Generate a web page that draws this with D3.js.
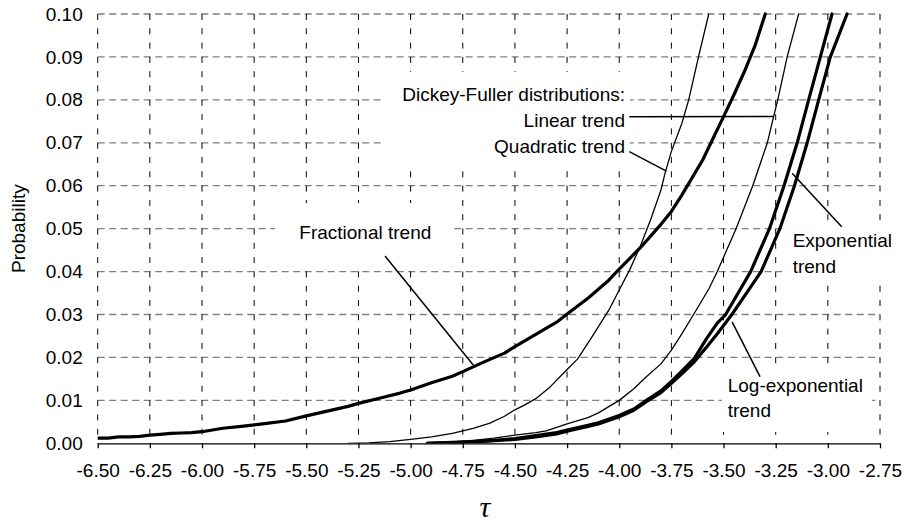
<!DOCTYPE html>
<html>
<head>
<meta charset="utf-8">
<script src="https://cdn.jsdelivr.net/npm/d3@7"></script>
<style>
  html, body { margin: 0; padding: 0; background: #fff; }
  svg { display: block; }
  text { font-family: "Liberation Sans", Arial, sans-serif; fill: #000; }
</style>
</head>
<body>
<svg id="chart" width="904" height="522"></svg>
<script>
// ---------------- data ----------------
const xTicks = [-6.50, -6.25, -6.00, -5.75, -5.50, -5.25, -5.00, -4.75, -4.50, -4.25, -4.00, -3.75, -3.50, -3.25, -3.00, -2.75];
const yTicks = [0.00, 0.01, 0.02, 0.03, 0.04, 0.05, 0.06, 0.07, 0.08, 0.09, 0.10];

// [tau, probability]
const fractionalTrend = [
  [-6.50,0.0012],[-6.45,0.0012],[-6.40,0.0015],[-6.35,0.0015],[-6.30,0.0016],[-6.25,0.0019],
  [-6.20,0.0021],[-6.15,0.0023],[-6.10,0.0024],[-6.05,0.0025],[-6.00,0.0027],[-5.95,0.0031],
  [-5.90,0.0035],[-5.80,0.0040],[-5.75,0.0043],[-5.70,0.0046],[-5.60,0.0052],[-5.50,0.0064],
  [-5.40,0.0075],[-5.30,0.0086],[-5.25,0.0093],[-5.15,0.0105],[-5.05,0.0117],[-5.00,0.0124],
  [-4.90,0.0141],[-4.80,0.0156],[-4.75,0.0167],[-4.65,0.0189],[-4.55,0.0210],[-4.50,0.0225],
  [-4.40,0.0254],[-4.30,0.0282],[-4.25,0.0301],[-4.15,0.0338],[-4.05,0.0380],[-4.00,0.0406],
  [-3.90,0.0455],[-3.80,0.0510],[-3.75,0.0540],[-3.70,0.0578],[-3.60,0.0660],[-3.50,0.0761],
  [-3.45,0.0812],[-3.40,0.0866],[-3.35,0.0925],[-3.30,0.1000]
];
const quadraticTrend = [
  [-5.30,0.0000],[-5.20,0.0001],[-5.10,0.0004],[-5.00,0.0009],[-4.90,0.0015],[-4.80,0.0023],
  [-4.75,0.0029],[-4.70,0.0035],[-4.62,0.0047],[-4.55,0.0063],[-4.50,0.0078],[-4.45,0.0090],
  [-4.40,0.0104],[-4.33,0.0132],[-4.25,0.0172],[-4.20,0.0196],[-4.12,0.0256],[-4.05,0.0310],
  [-4.00,0.0357],[-3.95,0.0404],[-3.90,0.0458],[-3.85,0.0520],[-3.80,0.0590],[-3.78,0.0630],
  [-3.75,0.0680],[-3.70,0.0745],[-3.667,0.0800],[-3.62,0.0900],[-3.571,0.1000]
];
const linearTrend = [
  [-4.90,0.0001],[-4.80,0.0003],[-4.70,0.0007],[-4.60,0.0012],[-4.50,0.0019],[-4.40,0.0025],
  [-4.35,0.0029],[-4.25,0.0045],[-4.15,0.0060],[-4.10,0.0071],[-4.00,0.0100],[-3.93,0.0127],
  [-3.87,0.0155],[-3.80,0.0185],[-3.75,0.0217],[-3.70,0.0255],[-3.64,0.0303],[-3.57,0.0360],
  [-3.53,0.0400],[-3.44,0.0500],[-3.36,0.0600],[-3.29,0.0700],[-3.26,0.0761],[-3.24,0.0800],
  [-3.195,0.0900],[-3.14,0.1000]
];
const exponentialTrend = [
  [-4.92,0.0000],[-4.80,0.0002],[-4.70,0.0004],[-4.60,0.0007],[-4.50,0.0011],[-4.40,0.0018],
  [-4.30,0.0025],[-4.25,0.0031],[-4.15,0.0042],[-4.10,0.0048],[-4.00,0.0065],[-3.93,0.0080],
  [-3.87,0.0100],[-3.80,0.0122],[-3.75,0.0144],[-3.70,0.0168],[-3.64,0.0198],[-3.58,0.0245],
  [-3.53,0.0280],[-3.49,0.0300],[-3.43,0.0350],[-3.37,0.0400],[-3.28,0.0500],[-3.21,0.0600],
  [-3.147,0.0700],[-3.092,0.0800],[-3.036,0.0900],[-2.98,0.1000]
];
const logExponentialTrend = [
  [-4.92,0.0000],[-4.80,0.0001],[-4.70,0.0003],[-4.60,0.0006],[-4.50,0.0009],[-4.40,0.0015],
  [-4.30,0.0022],[-4.25,0.0028],[-4.15,0.0039],[-4.10,0.0045],[-4.00,0.0062],[-3.93,0.0077],
  [-3.87,0.0097],[-3.80,0.0118],[-3.75,0.0140],[-3.70,0.0162],[-3.64,0.0190],[-3.58,0.0225],
  [-3.53,0.0255],[-3.46,0.0300],[-3.39,0.0350],[-3.32,0.0400],[-3.23,0.0500],[-3.16,0.0600],
  [-3.099,0.0700],[-3.044,0.0800],[-2.988,0.0900],[-2.908,0.1000]
];

const seriesNames = ["Fractional trend", "Quadratic trend", "Linear trend", "Exponential trend", "Log-exponential trend"];
const seriesData  = [fractionalTrend, quadraticTrend, linearTrend, exponentialTrend, logExponentialTrend];

const yAxisTitle = "Probability";
const xAxisTitle = "τ";

// ---------------- layout ----------------
const svg = d3.select("#chart");
const plot = { left: 97.7, right: 880, top: 14, bottom: 443.3 };
const x = d3.scaleLinear().domain([-6.5, -2.75]).range([plot.left, plot.right]);
const y = d3.scaleLinear().domain([0, 0.10]).range([plot.bottom, plot.top]);
const thick = { "Fractional trend": 3.2, "Quadratic trend": 1.3, "Linear trend": 1.3, "Exponential trend": 3.2, "Log-exponential trend": 3.2 };
const FONT = 19;
const fmt = d => d.toFixed(2);   // plain hyphen-minus like the reference

// horizontal gridlines (gray dashes)
svg.append("g").selectAll("line").data(yTicks.filter(d => d > 0)).join("line")
  .attr("x1", plot.left).attr("x2", plot.right)
  .attr("y1", d => y(d)).attr("y2", d => y(d))
  .attr("stroke", "#7f7f7f").attr("stroke-width", 1.3).attr("stroke-dasharray", "7,4.5");

// vertical gridlines (black dashes)
svg.append("g").selectAll("line").data(xTicks).join("line")
  .attr("x1", d => x(d)).attr("x2", d => x(d))
  .attr("y1", plot.top).attr("y2", plot.bottom)
  .attr("stroke", "#000").attr("stroke-width", 1).attr("stroke-dasharray", "6,8.3");

// white label backgrounds (hide gridlines like the reference's label boxes)
const boxes = [
  { x0: 381, x1: 630, y0: 72, y1: 171 },
  { x0: 275, x1: 452, y0: 203, y1: 266 },
  { x0: 782, x1: 892, y0: 222, y1: 281 },
  { x0: 722, x1: 872, y0: 370, y1: 432 }
];
svg.append("g").selectAll("rect").data(boxes).join("rect")
  .attr("x", d => d.x0).attr("y", d => d.y0)
  .attr("width", d => d.x1 - d.x0).attr("height", d => d.y1 - d.y0)
  .attr("fill", "#fff");

// x axis
const xAxis = d3.axisBottom(x).tickValues(xTicks).tickFormat(fmt)
  .tickSize(5).tickSizeOuter(0).tickPadding(15.5);
const gx = svg.append("g").attr("transform", `translate(0,${plot.bottom})`).call(xAxis);
gx.select(".domain").attr("stroke", "#000").attr("stroke-width", 1.3);
gx.selectAll(".tick line").attr("stroke", "#000").attr("stroke-width", 1.3);
gx.selectAll(".tick text").attr("font-size", FONT).attr("font-family", '"Liberation Sans", Arial, sans-serif').attr("fill", "#000");

// y axis (labels only)
const yAxis = d3.axisLeft(y).tickValues(yTicks).tickFormat(fmt)
  .tickSize(0).tickPadding(15);
const gy = svg.append("g").attr("transform", `translate(${plot.left},0)`).call(yAxis);
gy.select(".domain").remove();
gy.selectAll(".tick line").remove();
gy.selectAll(".tick text").attr("font-size", FONT).attr("font-family", '"Liberation Sans", Arial, sans-serif').attr("fill", "#000");

// curves
svg.append("clipPath").attr("id", "plotclip").append("rect")
  .attr("x", plot.left).attr("y", plot.top - 2).attr("width", plot.right - plot.left).attr("height", plot.bottom - plot.top + 2);
const line = d3.line().x(d => x(d[0])).y(d => y(d[1]));
svg.append("g").attr("clip-path", "url(#plotclip)")
  .selectAll("path").data(seriesData).join("path")
  .attr("d", d => line(d))
  .attr("fill", "none").attr("stroke", "#000")
  .attr("stroke-width", (d, i) => thick[seriesNames[i]])
  .attr("stroke-linejoin", "round").attr("stroke-linecap", "round");

// leader lines: from label (pixels) to a point on/near the curves (data units)
const leaders = [
  { from: [629.3, 116.7], to: [-3.26, 0.0761] },
  { from: [629.3, 151.7], to: [-3.774, 0.0634] },
  { from: [385, 256],     to: [-4.699, 0.0182] },
  { from: [841.7, 226.7], to: [-3.171, 0.0629] },
  { from: [760, 376.7],   to: [-3.459, 0.0283] }
];
svg.append("g").selectAll("line").data(leaders).join("line")
  .attr("x1", d => d.from[0]).attr("y1", d => d.from[1])
  .attr("x2", d => x(d.to[0])).attr("y2", d => y(d.to[1]))
  .attr("stroke", "#000").attr("stroke-width", 1.5);

// annotation texts
const labels = [
  { t: "Dickey-Fuller distributions:", x: 625, y: 101, a: "end" },
  { t: "Linear trend", x: 625, y: 126.5, a: "end" },
  { t: "Quadratic trend", x: 625, y: 153, a: "end" },
  { t: "Fractional trend", x: 299.3, y: 239, a: "start" },
  { t: "Exponential", x: 792.7, y: 247.3, a: "start" },
  { t: "trend", x: 792.7, y: 272.7, a: "start" },
  { t: "Log-exponential", x: 727.7, y: 392.3, a: "start" },
  { t: "trend", x: 727.7, y: 417.3, a: "start" }
];
svg.append("g").selectAll("text").data(labels).join("text")
  .attr("x", d => d.x).attr("y", d => d.y).attr("text-anchor", d => d.a)
  .attr("font-size", FONT).text(d => d.t);

// axis titles
svg.append("text").attr("transform", `translate(25,${(plot.top + plot.bottom) / 2}) rotate(-90)`)
  .attr("text-anchor", "middle").attr("font-size", FONT).text(yAxisTitle);
svg.append("text").attr("x", (plot.left + plot.right) / 2 - 4).attr("y", 516.5)
  .attr("text-anchor", "middle").attr("font-size", 30)
  .style("font-family", '"Liberation Serif", "DejaVu Serif", serif').style("font-style", "italic")
  .text(xAxisTitle);
</script>
</body>
</html>
